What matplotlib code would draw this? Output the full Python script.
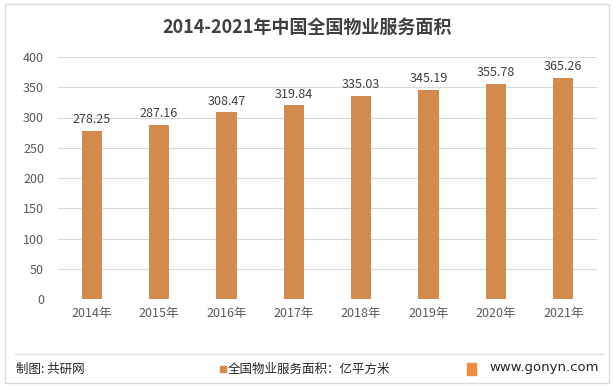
import matplotlib
matplotlib.use("Agg")
import matplotlib.pyplot as plt
from matplotlib.patches import Rectangle

plt.rcParams['font.family'] = ['Noto Sans CJK SC', 'DejaVu Sans']

# ── Data ─────────────────────────────────────────────────────────────────────
years = ["2014年", "2015年", "2016年", "2017年", "2018年", "2019年", "2020年", "2021年"]
area = [278.25, 287.16, 308.47, 319.84, 335.03, 345.19, 355.78, 365.26]
yticks = [0, 50, 100, 150, 200, 250, 300, 350, 400]

BAR = "#D38B4D"
TXT = "#404040"

fig = plt.figure(figsize=(6.14, 3.90), dpi=100)
W, H = 614, 390

# outer frame
fig.patches.append(Rectangle((5 / W, 7 / H), 604 / W, 379 / H, transform=fig.transFigure,
                             fill=False, edgecolor="#D9D9D9", linewidth=1.0))

ax = fig.add_axes([58 / W, 1 - 299 / H, (597 - 58) / W, (299 - 57) / H])
x = range(len(years))
ax.bar(x, area, width=0.3, color=BAR, zorder=3)
for xi, v in zip(x, area):
    ax.text(xi, v + 8, f"{v:.2f}", ha="center", va="bottom", fontsize=9, color=TXT)

ax.set_xlim(-0.5, len(years) - 0.5)
ax.set_ylim(0, 400)
ax.set_yticks(yticks)
ax.set_xticks(list(x))
ax.set_xticklabels(years)
ax.grid(axis="y", color="#D9D9D9", linewidth=0.8, zorder=0)
for s in ax.spines.values():
    s.set_visible(False)
ax.tick_params(length=0, labelsize=9, colors="#595959", pad=6)
ax.tick_params(axis="y", pad=10)

fig.text(0.5, 1 - 27 / H, "2014-2021年中国全国物业服务面积", ha="center", va="center",
         fontsize=13, fontweight="bold", color=TXT)

# footer
fig.add_artist(plt.Line2D([15 / W, 603 / W], [1 - 354 / H, 1 - 354 / H],
                          color="#E0E0E0", linewidth=1.0))
fig.text(16 / W, 1 - 369 / H, "制图: 共研网", ha="left", va="center", fontsize=9, color="#262626")
fig.patches.append(Rectangle((220 / W, 1 - 372 / H), 6 / W, 6 / H, transform=fig.transFigure,
                             color=BAR))
fig.text(228 / W, 1 - 369 / H, "全国物业服务面积：亿平方米", ha="left", va="center",
         fontsize=9, color="#262626")
fig.patches.append(Rectangle((467 / W, 1 - 375 / H), 9 / W, 12 / H, transform=fig.transFigure,
                             color="#F08A3C"))
fig.text(599 / W, 1 - 368 / H, "www.gonyn.com", ha="right", va="center", fontsize=9.5,
         color="#262626", family="DejaVu Sans")

fig.savefig("out.png", dpi=100)
